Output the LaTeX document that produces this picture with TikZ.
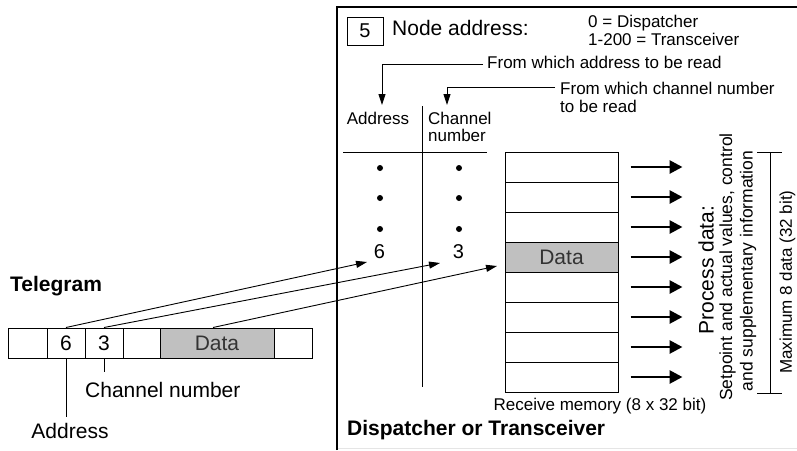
\documentclass[tikz,border=0pt]{standalone}
\usepackage{fontspec}
\setmainfont{Liberation Sans}
\usepackage{xcolor}
\usetikzlibrary{arrows.meta}

\definecolor{datagrey}{RGB}{192,192,192}

\tikzset{
  big/.style={font=\fontsize{21}{24}\selectfont, inner sep=0pt},
  small/.style={font=\fontsize{17}{20}\selectfont, inner sep=0pt},
  bold/.style={font=\fontsize{21}{24}\selectfont\bfseries, inner sep=0pt},
  cell/.style={draw, line width=1pt, minimum height=30pt, inner sep=0pt, font=\fontsize{21}{24}\selectfont},
  datacell/.style={cell, fill=datagrey, text=black!80},
  thinarrow/.style={line width=0.9pt, -{Triangle[length=11pt,width=7pt]}},
  fatarrow/.style={line width=2.8pt, -{Triangle[length=13pt,width=13pt]}},
}

\begin{document}
\begin{tikzpicture}[x=1pt,y=-1pt]
        \useasboundingbox (0,0) rectangle (797,450);

        % Frame of the receiving station
        \draw[line width=2pt] (337,450) -- (337,7) -- (797,7);
        \draw[gray!20, line width=1pt] (338,448) -- (797,448);

        % Node address
        \node[cell, minimum width=36pt, minimum height=28pt, font=\fontsize{20}{24}\selectfont] (nodebox) at (365,31) {5};
        \node[big, anchor=base west] (nodeaddr) at (392,35) {Node address:};
        \node[small, anchor=base west] (disp) at (588,27) {0 = Dispatcher};
        \node[small, anchor=base west] (trans) at (588,45) {1-200 = Transceiver};

        % Where to read from
        \node[small, anchor=base west] (fromaddr) at (487,68) {From which address to be read};
        \node[small, anchor=base west] (fromch) at (560,94) {From which channel number};
        \node[small, anchor=base west] (fromch2) at (560,112) {to be read};

        % Column heads
        \node[small, anchor=base] (addrhd) at (378,124) {Address};
        \node[small, anchor=base west] (chhd) at (428,124) {Channel};
        \node[small, anchor=base west] (chhd2) at (428,141) {number};

        \coordinate (addrtip) at (382,105);
        \coordinate (chtip) at (447,105);
        \draw[thinarrow] ([xshift=-4pt,yshift=-3pt]fromaddr.west) -| (addrtip);
        \draw[thinarrow] ([xshift=-5pt]fromch.west) -| (chtip);

        % Address / channel table
        \draw[line width=1pt] (343,152) -- (487,152); % head rule
        \draw[line width=1pt] (422,106) -- (422,387); % column divider
        \foreach \y in {168,198,229} {
            \fill (380,\y) circle (3pt);
            \fill (459,\y) circle (3pt);
        }
        \node[big, font=\fontsize{20}{22}\selectfont] (six) at (379.5,252) {6};
        \node[big, font=\fontsize{20}{22}\selectfont] (three) at (458.5,252) {3};

        % Receive memory with outgoing arrows
        \foreach \i in {1,...,8} {
            \ifnum\i=4
                \node[datacell, minimum width=113pt] (m\i) at (561.5,137+30*\i) {Data};
            \else
                \node[cell, minimum width=113pt] (m\i) at (561.5,137+30*\i) {};
            \fi
            \draw[fatarrow] ([xshift=12pt]m\i.east) -- ([xshift=64pt]m\i.east);
        }
        \node[small, anchor=base] (recv) at (600,410) {Receive memory (8 x 32 bit)};
        \node[bold, anchor=base west] (station) at (347,435) {Dispatcher or Transceiver};

        % Process data text
        \node[big, rotate=90] (procdata) at (706,270) {Process data:};
        \node[small, rotate=90, font=\fontsize{17.5}{20}\selectfont] (setpt) at (727.5,267) {Setpoint and actual values, control};
        \node[small, rotate=90, font=\fontsize{17.5}{20}\selectfont] (suppl) at (748,271) {and supplementary information};

        % Bracket: maximum 8 data
        \draw[line width=1pt] (757,152) -- (782,152) (770,152) -- (770,393) (757,393) -- (782,393);
        \node[small, rotate=90] (maxdata) at (787.5,282) {Maximum 8 data (32 bit)};

        % Telegram
        \node[bold, anchor=base west] (telegram) at (10,291) {Telegram};
        \node[cell, minimum width=39pt] (t1) at (27.5,343) {};
        \node[cell, minimum width=38pt] (t2) at (66,343) {6};
        \node[cell, minimum width=38pt] (t3) at (104,343) {3};
        \node[cell, minimum width=37pt] (t4) at (141.5,343) {};
        \node[datacell, minimum width=114pt] (t5) at (217,343) {Data};
        \node[cell, minimum width=38pt] (t6) at (293,343) {};

        % Telegram fields into the station
        \coordinate (in6) at (367,262);
        \coordinate (in3) at (440,263);
        \coordinate (indata) at (497,266);
        \draw[thinarrow] (t2.north) -- (in6);
        \draw[thinarrow] (t3.north) -- (in3);
        \draw[thinarrow] ([xshift=-4pt]t5.north) -- (indata);

        % Field names
        \node[big, anchor=base, outer ysep=5.5pt] (addrlbl) at (70,438) {Address};
        \node[big, anchor=base west, outer ysep=9.5pt] (chlbl) at (85,397) {Channel number};
        \draw[line width=1pt] (t2.south) -- (t2.south |- addrlbl.north);
        \draw[line width=1pt] (t3.south) -- (t3.south |- chlbl.north);
    \end{tikzpicture}
\end{document}
